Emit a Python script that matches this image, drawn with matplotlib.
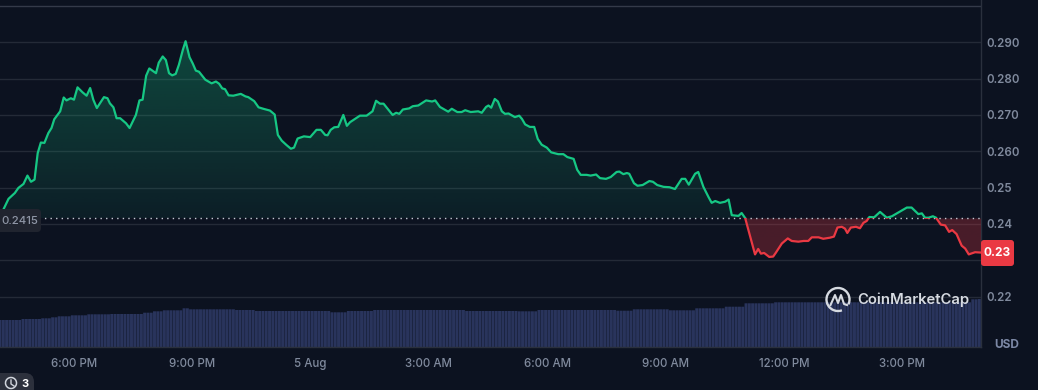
# coinmarketcap style price chart, 24h
import matplotlib
matplotlib.use("Agg")
import matplotlib.pyplot as plt
import numpy as np
from matplotlib.patches import Rectangle, FancyBboxPatch, PathPatch, Arc
from matplotlib.path import Path

plt.rcParams['font.family'] = ['Inter', 'DejaVu Sans']

# time in hours since midnight on 4 Aug
hours = [16.12, 16.19, 16.34, 16.50, 16.59, 16.72, 16.82, 16.91, 17.00, 17.08, 17.16, 17.25, 17.35, 17.43, 17.50,
         17.65, 17.74, 17.81, 17.92, 18.00, 18.09, 18.22, 18.32, 18.41, 18.49, 18.58, 18.76, 18.85, 18.91, 19.00,
         19.08, 19.17, 19.32, 19.41, 19.57, 19.66, 19.74, 19.83, 19.91, 20.08, 20.15, 20.25, 20.33, 20.41, 20.49,
         20.58, 20.66, 20.76, 20.83, 20.93, 21.01, 21.09, 21.17, 21.33, 21.49, 21.60, 21.68, 21.76, 21.83, 21.92,
         22.04, 22.23, 22.35, 22.42, 22.57, 22.68, 22.80, 22.97, 23.09, 23.17, 23.27, 23.39, 23.50, 23.58, 23.67,
         23.83, 23.99, 24.15, 24.26, 24.37, 24.43, 24.51, 24.60, 24.70, 24.83, 24.92, 25.00,
         25.25, 25.42, 25.57, 25.66, 25.76, 25.85, 26.08, 26.17, 26.25, 26.34, 26.50, 26.59, 26.73, 26.93, 27.08,
         27.16, 27.28, 27.49, 27.58, 27.72, 27.83, 27.92, 28.06, 28.25, 28.34, 28.45, 28.51, 28.58, 28.67, 28.75,
         28.85, 28.93, 29.02, 29.18, 29.29, 29.36, 29.44, 29.56, 29.67, 29.76, 29.86, 29.99, 30.10, 30.28, 30.41,
         30.51, 30.67, 30.76, 30.85, 31.00, 31.10, 31.24, 31.34, 31.49, 31.61, 31.76, 31.83, 31.93, 32.02, 32.08,
         32.20, 32.29, 32.42, 32.59, 32.68, 32.79, 32.95, 33.10, 33.24, 33.41, 33.50, 33.59, 33.75, 33.83,
         33.96, 34.09, 34.17, 34.26, 34.38, 34.51, 34.60, 34.68, 34.85, 34.93, 35.02, 35.27, 35.35, 35.42, 35.50,
         35.63, 35.73, 35.80, 35.95, 36.10, 36.20, 36.37, 36.50, 36.62, 36.71, 36.88, 37.00, 37.17, 37.27, 37.36,
         37.47, 37.55, 37.61, 37.70, 37.83, 37.93, 38.02, 38.10, 38.17, 38.29, 38.44, 38.61, 38.74, 39.12, 39.24,
         39.41, 39.50, 39.58, 39.67, 39.78, 39.86, 39.98, 40.09, 40.19, 40.27, 40.38, 40.51, 40.60, 40.69, 40.85,
         41.00]

price = [.2425, .2435, .2469, .2485, .2499, .2510, .2533, .2516, .2522, .2595, .2624, .2623, .2650, .2664, .2688,
         .2710, .2748, .2740, .2746, .2742, .2776, .2762, .2753, .2774, .2742, .2719, .2749, .2746, .2732, .2721,
         .2691, .2691, .2677, .2664, .2700, .2740, .2742, .2808, .2828, .2815, .2844, .2861, .2851, .2815, .2809,
         .2813, .2838, .2879, .2903, .2859, .2842, .2822, .2819, .2797, .2787, .2792, .2786, .2773, .2771, .2754,
         .2753, .2758, .2751, .2749, .2738, .2721, .2717, .2712, .2701, .2645, .2629, .2617, .2607, .2610, .2635,
         .2641, .2639, .2659, .2659, .2645, .2644, .2659, .2666, .2667, .2700, .2670, .2680,
         .2698, .2698, .2710, .2739, .2731, .2731, .2700, .2706, .2703, .2715, .2718, .2724, .2726, .2740, .2737,
         .2740, .2722, .2709, .2717, .2708, .2708, .2713, .2708, .2710, .2706, .2722, .2726, .2720, .2744, .2737,
         .2710, .2703, .2704, .2694, .2698, .2689, .2674, .2667, .2667, .2634, .2618, .2610, .2597, .2592, .2592,
         .2584, .2579, .2549, .2535, .2535, .2533, .2536, .2526, .2524, .2529, .2543, .2544, .2537, .2540, .2538,
         .2512, .2505, .2507, .2518, .2516, .2507, .2502, .2501, .2496, .2524, .2524, .2508, .2538, .2543,
         .2502, .2474, .2458, .2463, .2458, .2461, .2467, .2424, .2422, .2430, .2416, .2316, .2331, .2318, .2320,
         .2309, .2310, .2321, .2346, .2360, .2353, .2351, .2353, .2353, .2363, .2363, .2359, .2362, .2365, .2390,
         .2392, .2387, .2375, .2390, .2392, .2388, .2403, .2408, .2419, .2418, .2433, .2417, .2421, .2445, .2445,
         .2427, .2429, .2417, .2417, .2421, .2417, .2398, .2396, .2378, .2383, .2372, .2340, .2332, .2316, .2322,
         .2321]

base_price = 0.2415

# volume strip, level and how many 5 minute bars stay at that level
vol_levels = [27, 28, 28.7, 29.7, 30.7, 31.7, 32.7, 33, 34.3, 35.7, 36.7, 38.7, 37.7, 37, 36, 34.7, 36, 37, 36, 35.7,
              37, 36.3, 37.7, 36.7, 38.7, 40.3, 43.7, 44.7, 47.7, 48]
vol_runs = [7, 6, 3, 2, 4, 5, 7, 10, 3, 3, 6, 2, 14, 6, 23, 5, 8, 28, 16, 6,
            24, 5, 11, 8, 9, 6, 9, 60, 2, 1]

grid_prices = [0.30, 0.29, 0.28, 0.27, 0.26, 0.25, 0.24, 0.23, 0.22]
price_ticks = [0.29, 0.28, 0.27, 0.26, 0.25, 0.24, 0.22]
price_labels = ['0.290', '0.280', '0.270', '0.260', '0.25', '0.24', '0.22']
time_ticks = [18, 21, 24, 27, 30, 33, 36, 39]
time_labels = ['6:00 PM', '9:00 PM', '5 Aug', '3:00 AM', '6:00 AM', '9:00 AM', '12:00 PM', '3:00 PM']

bg = '#0c1220'
green = '#16c784'
red = '#ea3943'
grey = '#808a9d'

hours = np.array(hours)
price = np.array(price)

fig = plt.figure(figsize=(10.38, 3.9), dpi=100, facecolor=bg)
ax = fig.add_axes([0, 43 / 390, 981 / 1038, 347 / 390], facecolor=bg)
ax.set_xlim(16.124, 41.0)
ax.set_ylim(0.2061, 0.30165)

for g in grid_prices:
    ax.axhline(g, color='#343a49' if g == 0.30 else '#242a37', lw=1, zorder=1)

# volume bars on a second y scale
vol = np.repeat(vol_levels, vol_runs)
vol_x = 41.0 - (np.arange(len(vol))[::-1] + 0.5) / 12
ax2 = ax.twinx()
ax2.set_ylim(0, 347)
ax2.axis('off')
bars = ax2.bar(vol_x, vol, width=0.9 / 12, color='#29345c', linewidth=0, zorder=2)
for b in bars:
    b.set_snap(False)


def gradient_fill(mask, rgb, a_top, a_bottom, y0, y1):
    # gradient image clipped to the area between the line and the base price
    poly = ax.fill_between(hours, price, base_price, where=mask, interpolate=True, color='none', linewidth=0)
    path = Path.make_compound_path(*poly.get_paths())
    clip = PathPatch(path, transform=ax.transData, fc='none', ec='none')
    ax.add_patch(clip)
    img = np.zeros((100, 2, 4))
    img[..., :3] = rgb
    img[..., 3] = np.linspace(a_top, a_bottom, 100)[:, None]
    im = ax.imshow(img, extent=(16.124, 41.0, y0, y1), aspect='auto', origin='upper', zorder=3)
    im.set_clip_path(clip)


gradient_fill(price >= base_price, (22 / 255, 199 / 255, 132 / 255), 0.30, 0.07, base_price, 0.29)
gradient_fill(price <= base_price, (234 / 255, 57 / 255, 67 / 255), 0.27, 0.28, 0.23, base_price)
ax.set_xlim(16.124, 41.0)
ax.set_ylim(0.2061, 0.30165)

# same line twice, clipped above and below the base price
up = ax.plot(hours, price, color=green, lw=1.6, zorder=5, solid_joinstyle='round')[0]
up.set_clip_path(Rectangle((16, base_price), 26, 0.1, transform=ax.transData))
down = ax.plot(hours, price, color=red, lw=1.6, zorder=5, solid_joinstyle='round')[0]
down.set_clip_path(Rectangle((16, 0.1), 26, base_price - 0.1, transform=ax.transData))

ax.axhline(base_price, color='#c5cad4', lw=1, linestyle=(0, (1, 3)), zorder=4)

ax.set_xticks(time_ticks)
ax.set_xticklabels(time_labels, fontweight='medium')
ax.yaxis.tick_right()
ax.set_yticks(price_ticks)
ax.set_yticklabels(price_labels, fontweight='semibold')
ax.tick_params(axis='x', length=0, pad=8, labelsize=8.3, labelcolor=grey)
ax.tick_params(axis='y', length=0, pad=4, labelsize=8.3, labelcolor=grey)
for s in ['top', 'left']:
    ax.spines[s].set_visible(False)
for s in ['right', 'bottom']:
    ax.spines[s].set_color('#2a303d')
    ax.spines[s].set_linewidth(1)
ax.set_axisbelow(True)
ax.set_zorder(2)
ax2.set_zorder(1)
ax.patch.set_alpha(0)
ax2.patch.set_alpha(0)
fig.patch.set_facecolor(bg)

# overlay in pixel units for the tags, logo and badge
top = fig.add_axes([0, 0, 1, 1], zorder=10)
top.set_xlim(0, 1038)
top.set_ylim(390, 0)
top.axis('off')

top.add_patch(FancyBboxPatch((984, 243), 27, 20, boxstyle='round,pad=3,rounding_size=3', fc=red, ec='none'))
top.text(997.5, 253.5, '0.23', color='white', fontsize=8.6, fontweight='bold', ha='center', va='center')

top.add_patch(FancyBboxPatch((-6, 212), 44, 17, boxstyle='round,pad=3,rounding_size=4', fc='#20242f', ec='none'))
top.text(1.5, 220.5, '0.2415', color='#8f96a6', fontsize=8.2, fontweight='medium', ha='left', va='center')

top.text(1006.5, 345.5, 'USD', color='#7c88a5', fontsize=8.6, fontweight='bold', ha='center', va='center')

# CoinMarketCap mark
logo = '#d6dae1'
top.add_patch(Arc((838, 299.5), 23, 23, theta1=70, theta2=385, color=logo, lw=1.7))
top.plot([830.5, 835, 838, 841, 844, 847], [305, 295, 303, 295, 304, 305], color=logo, lw=1.5,
         solid_joinstyle='round')
top.text(857, 300, 'CoinMarketCap', color=logo, fontsize=10.7, fontweight='semibold', ha='left', va='center')

# badge bottom left
top.add_patch(FancyBboxPatch((-10, 380), 37, 20, boxstyle='round,pad=7,rounding_size=9', fc='#2c303c', ec='none'))
top.add_patch(Arc((11, 383), 11, 11, theta1=-200, theta2=160, color='#d0d4dc', lw=1.1))
top.plot([11, 11, 14], [380, 384, 386], color='#d0d4dc', lw=1)
top.text(24.5, 384, '3', color='white', fontsize=8, fontweight='bold', ha='center', va='center')

fig.savefig('out.png', dpi=100, facecolor=bg)
